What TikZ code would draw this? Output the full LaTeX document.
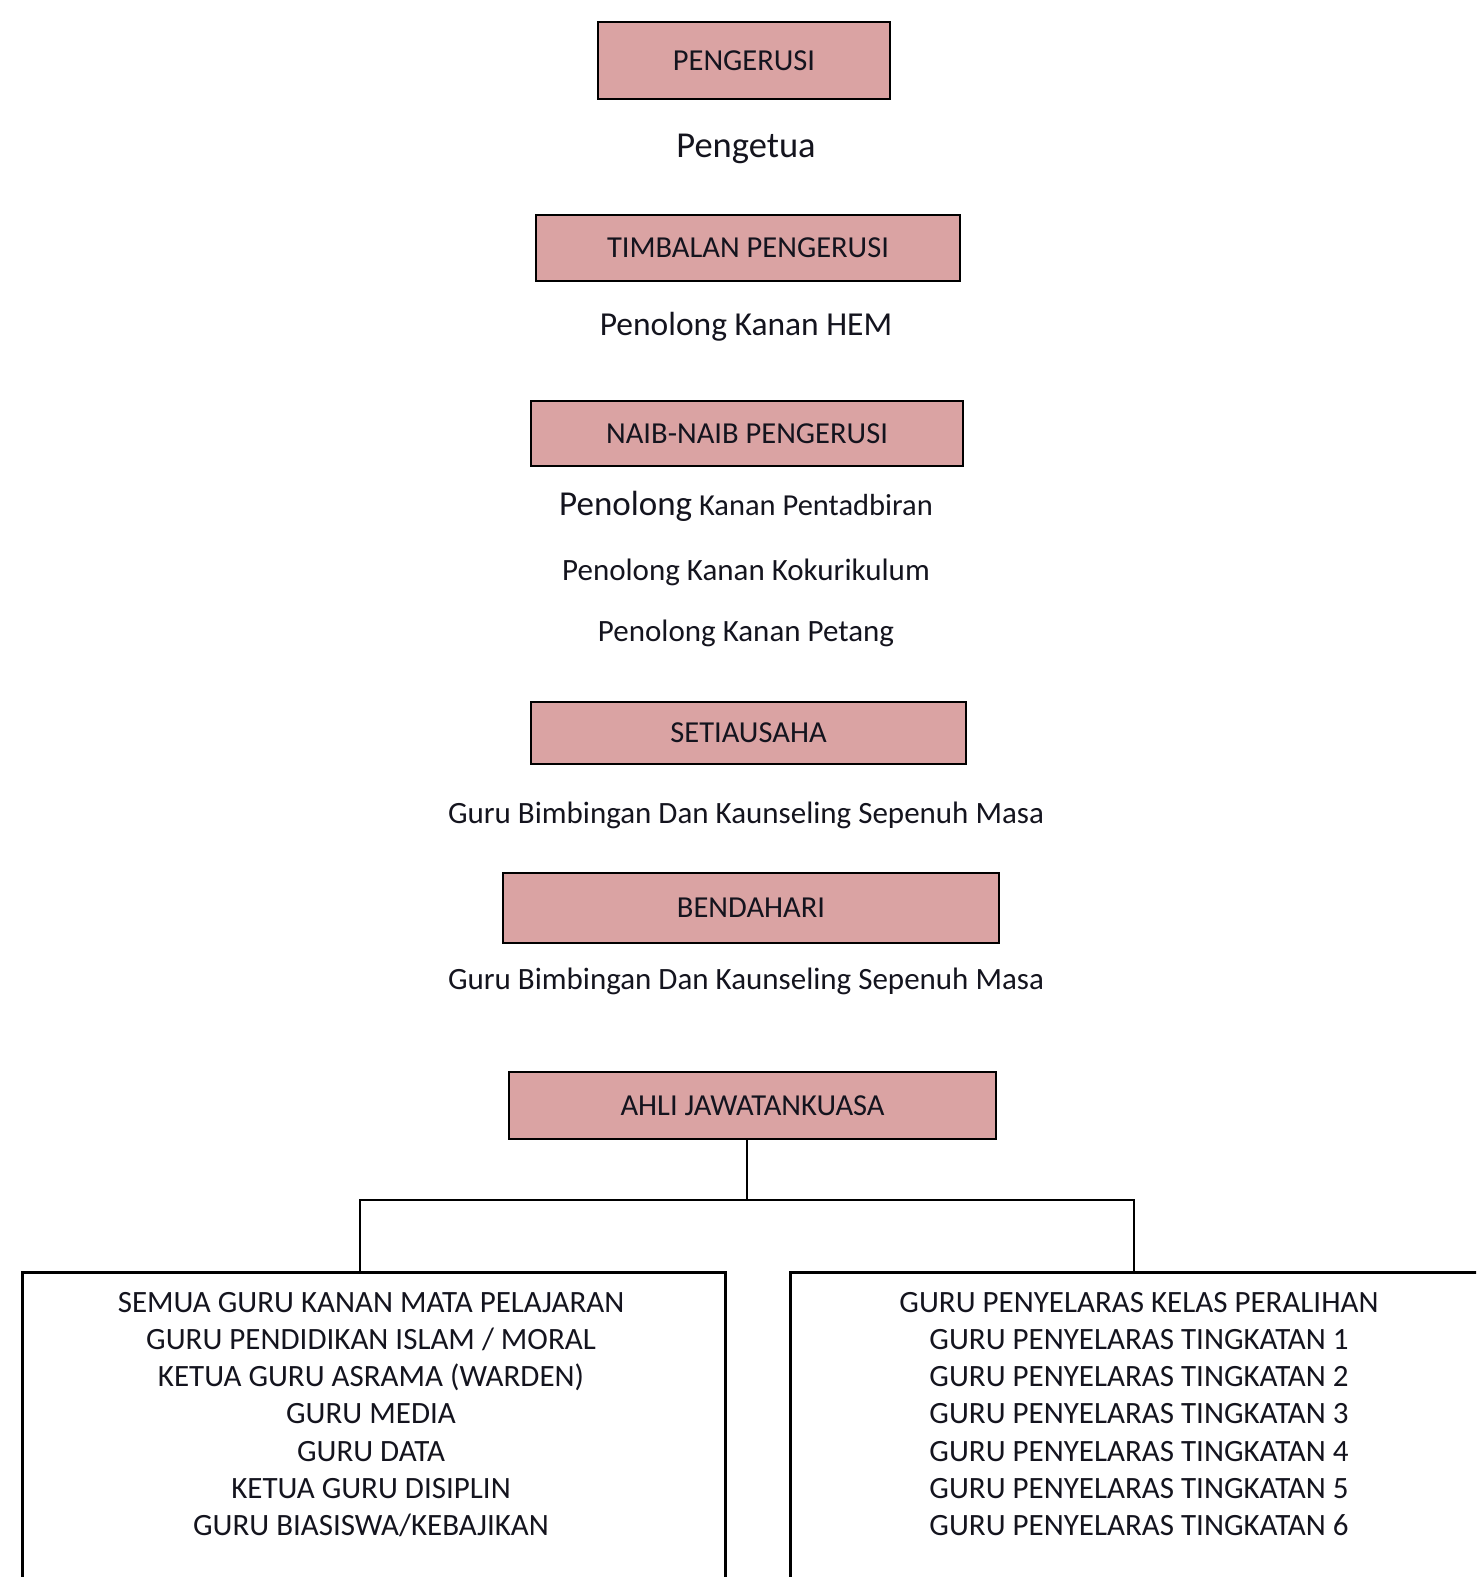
\documentclass[tikz,border=0pt]{standalone}
\usepackage{fontspec}
\setmainfont{Carlito}
\definecolor{boxpink}{RGB}{218,163,163}
\definecolor{txt}{RGB}{20,20,30}
\tikzset{
  rolebox/.style={draw=black, line width=2.5pt, fill=boxpink, inner sep=0pt,
    font=\fontsize{30.5}{36}\selectfont, text=txt},
  nametext/.style={anchor=base, inner sep=0pt, font=\fontsize{31}{36}\selectfont, text=txt},
  listtext/.style={anchor=base, inner sep=0pt, font=\fontsize{31}{36}\selectfont, text=txt},
  listframe/.style={draw=black, line width=2.5pt, inner sep=0pt},
  tree/.style={draw=black, line width=2pt}
}
\begin{document}
\begin{tikzpicture}[x=1pt,y=-1pt]
\useasboundingbox (0,0) rectangle (1476,1577);
\clip (0,0) rectangle (1476,1577);
% boxes
\node[rolebox, minimum width=292pt, minimum height=77pt] (peng) at (744,60.5) {PENGERUSI};
\node[nametext, font=\fontsize{36.5}{40}\selectfont] (pengetua) at (746,157) {Pengetua};
\node[rolebox, minimum width=424pt, minimum height=66pt] (timb) at (748,248) {TIMBALAN PENGERUSI};
\node[nametext, font=\fontsize{33.5}{40}\selectfont] (hem) at (746,335) {Penolong Kanan HEM};
\node[rolebox, minimum width=432pt, minimum height=65pt] (naib) at (747,433.5) {NAIB-NAIB PENGERUSI};
\node[nametext, font=\fontsize{30.5}{36}\selectfont] (ptd) at (746,515) {{\fontsize{35}{40}\selectfont Penolong} Kanan Pentadbiran};
\node[nametext] (koko) at (746,580) {Penolong Kanan Kokurikulum};
\node[nametext] (ptg) at (746,641) {Penolong Kanan Petang};
\node[rolebox, minimum width=435pt, minimum height=62pt] (setia) at (748.5,733) {SETIAUSAHA};
\node[nametext] (gbk1) at (746,823) {Guru Bimbingan Dan Kaunseling Sepenuh Masa};
\node[rolebox, minimum width=496pt, minimum height=70pt] (benda) at (751,908) {BENDAHARI};
\node[nametext] (gbk2) at (746,989) {Guru Bimbingan Dan Kaunseling Sepenuh Masa};
\node[rolebox, minimum width=487pt, minimum height=67pt] (ajk) at (752.5,1105.5) {AHLI JAWATANKUASA};
% lower frames (open beyond page edges)
\node[listframe, anchor=north west, minimum width=703pt, minimum height=400pt] (lbox) at (21,1271) {};
\node[listframe, anchor=north west, minimum width=800pt, minimum height=400pt] (rbox) at (789,1271) {};
\coordinate (split) at (747,1200);
\coordinate (ltop) at (360,1271);
\coordinate (rtop) at (1134,1271);
\draw[tree] (ajk.south -| split) -- (split);
\draw[tree] (split) -| (ltop);
\draw[tree] (split) -| (rtop);
% list texts
\foreach \t [count=\i] in {SEMUA GURU KANAN MATA PELAJARAN, GURU PENDIDIKAN ISLAM / MORAL, KETUA GURU ASRAMA (WARDEN), GURU MEDIA, GURU DATA, KETUA GURU DISIPLIN, GURU BIASISWA/KEBAJIKAN}{
  \pgfmathsetmacro{\yy}{1312 + (\i-1)*37.3}
  \node[listtext] (l\i) at (371,\yy) {\t};
}
\foreach \t [count=\i] in {GURU PENYELARAS KELAS PERALIHAN, GURU PENYELARAS TINGKATAN 1, GURU PENYELARAS TINGKATAN 2, GURU PENYELARAS TINGKATAN 3, GURU PENYELARAS TINGKATAN 4, GURU PENYELARAS TINGKATAN 5, GURU PENYELARAS TINGKATAN 6}{
  \pgfmathsetmacro{\yy}{1312 + (\i-1)*37.3}
  \node[listtext] (r\i) at (1139,\yy) {\t};
}
\end{tikzpicture}
\end{document}
